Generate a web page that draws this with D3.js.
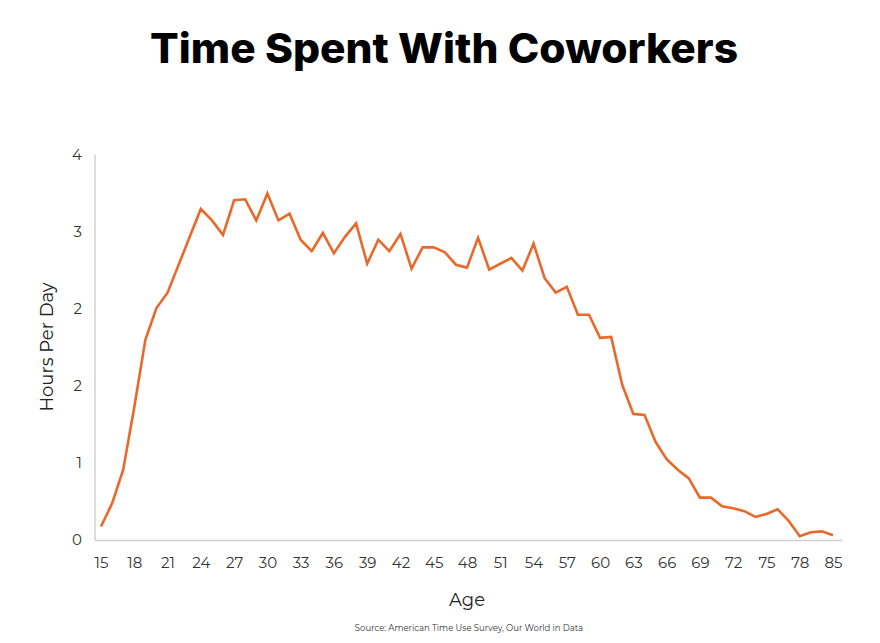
<!DOCTYPE html>
<html><head><meta charset="utf-8">
<script src="https://cdn.jsdelivr.net/npm/d3@7"></script>
<style>body{margin:0;background:#fff}svg{display:block}</style>
</head><body><div id="chart"></div>
<script>
const ages = [15,16,17,18,19,20,21,22,23,24,25,26,27,28,29,30,31,32,33,34,35,36,37,38,39,40,41,42,43,44,45,46,47,48,49,50,51,52,53,54,55,56,57,58,59,60,61,62,63,64,65,66,67,68,69,70,71,72,73,74,75,76,77,78,79,80,85];
const hours = [0.14,0.38,0.73,1.38,2.08,2.41,2.57,2.86,3.15,3.44,3.32,3.17,3.53,3.54,3.32,3.60,3.32,3.39,3.12,3.00,3.19,2.98,3.15,3.29,2.87,3.12,3.00,3.18,2.82,3.04,3.04,2.99,2.86,2.83,3.14,2.81,2.87,2.93,2.80,3.08,2.72,2.57,2.63,2.34,2.34,2.10,2.11,1.61,1.31,1.30,1.02,0.84,0.73,0.64,0.44,0.44,0.35,0.33,0.30,0.24,0.27,0.32,0.20,0.04,0.08,0.09,0.05];
const yTicks = [0,0.8,1.6,2.4,3.2,4.0];
const labeledAges = ages.filter((a,i)=>i%3===0);

const W=880,H=643;
const svg=d3.select("#chart").append("svg").attr("width",W).attr("height",H);
const font="Montserrat, 'Noto Sans', Lato, sans-serif";
const x=d3.scalePoint().domain(ages).range([101,833]);
const y=d3.scaleLinear().domain([0,4]).range([540,155]);

svg.append("text").attr("x",444).attr("y",63).attr("text-anchor","middle")
  .attr("font-family","Inter, Lato, sans-serif").attr("font-weight",800).attr("font-size",41)
  .attr("textLength",588).attr("lengthAdjust","spacingAndGlyphs")
  .attr("fill","#000").text("Time Spent With Coworkers");

// axes lines
svg.append("line").attr("x1",95).attr("x2",95).attr("y1",155).attr("y2",540).attr("stroke","#d0d0d0").attr("stroke-width",1.5);
svg.append("line").attr("x1",95).attr("x2",842).attr("y1",540.5).attr("y2",540.5).attr("stroke","#d0d0d0").attr("stroke-width",1.5);

const yAxis=d3.axisLeft(y).tickValues(yTicks).tickFormat(d3.format(".0f")).tickSize(0).tickPadding(0);
const gy=svg.append("g").attr("transform","translate(82,0)").call(yAxis);
gy.select(".domain").remove();
gy.selectAll("text").attr("font-family",font).attr("font-size",15).attr("fill","#333");

const xAxis=d3.axisBottom(x).tickValues(labeledAges).tickSize(0).tickPadding(0);
const gx=svg.append("g").attr("transform","translate(0,557)").call(xAxis);
gx.select(".domain").remove();
gx.selectAll("text").attr("font-family",font).attr("font-size",15).attr("fill","#333");

svg.append("path").datum(hours).attr("fill","none").attr("stroke","#E8692A").attr("stroke-width",2.6)
  .attr("stroke-linejoin","miter")
  .attr("d",d3.line().x((d,i)=>x(ages[i])).y(d=>y(d)));

svg.append("text").attr("x",467).attr("y",606).attr("text-anchor","middle")
  .attr("font-family",font).attr("font-size",18).attr("fill","#222").text("Age");
svg.append("text").attr("transform","translate(53,347) rotate(-90)").attr("text-anchor","middle")
  .attr("font-family",font).attr("font-size",18).attr("fill","#222").text("Hours Per Day");
svg.append("text").attr("x",469).attr("y",631).attr("text-anchor","middle")
  .attr("font-family",font).attr("font-size",8.5).attr("fill","#333").text("Source: American Time Use Survey, Our World in Data");
</script></body></html>
